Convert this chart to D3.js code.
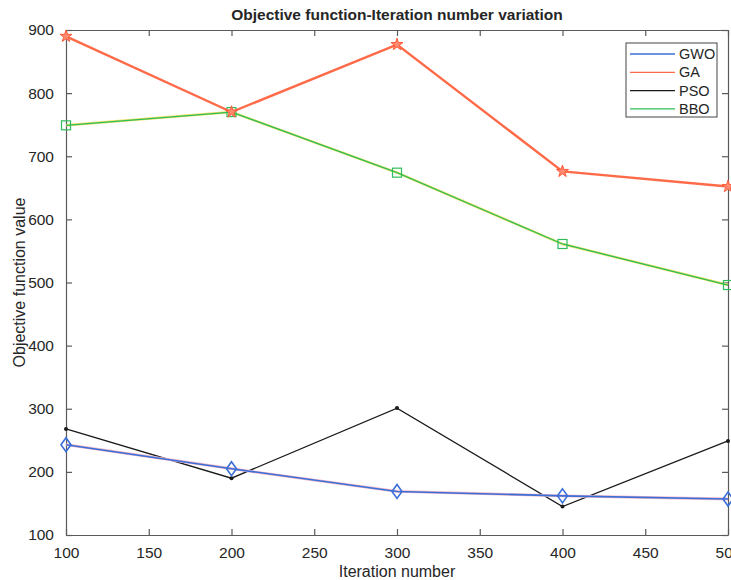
<!DOCTYPE html>
<html>
<head>
    <title>Objective function-Iteration number variation</title>
    <script src="https://d3js.org/d3.v7.min.js"></script>
    <style>
        body { margin: 0; background: #fff; }
        text { font-family: "Liberation Sans", Arial, sans-serif; fill: #262626; }
    </style>
</head>
<body>
    <script>
        const iterations = [100, 200, 300, 400, 500];
        const gwo = [243, 205, 169, 162, 157];
        const ga = [890, 770, 877, 676, 652];
        const pso = [268, 190, 301, 145, 249];
        const bbo = [749, 770, 674, 561, 496];
        const xTicks = [100, 150, 200, 250, 300, 350, 400, 450, 500];
        const yTicks = [100, 200, 300, 400, 500, 600, 700, 800, 900];

        const margin = {top: 30, right: 3, bottom: 45, left: 66},
            width = 731 - margin.left - margin.right,
            height = 580 - margin.top - margin.bottom;

        const svg = d3.select("body")
          .append("svg")
            .attr("width", 731)
            .attr("height", 580);

        const g = svg.append("g")
            .attr("transform", `translate(${margin.left},${margin.top})`);

        const x = d3.scaleLinear().domain([100, 500]).range([0, width]);
        const y = d3.scaleLinear().domain([100, 900]).range([height, 0]);

        const axisColor = "#5a5a5a";

        // axes with inner ticks (matlab style)
        const xb = g.append("g")
            .attr("transform", `translate(0,${height})`)
            .call(d3.axisBottom(x).tickValues(xTicks).tickSizeInner(-6).tickSizeOuter(0).tickPadding(12));
        const xt = g.append("g")
            .call(d3.axisTop(x).tickValues(xTicks).tickSizeInner(-6).tickSizeOuter(0).tickFormat(""));
        const yl = g.append("g")
            .call(d3.axisLeft(y).tickValues(yTicks).tickSizeInner(-6).tickSizeOuter(0).tickPadding(12));
        const yr = g.append("g")
            .attr("transform", `translate(${width},0)`)
            .call(d3.axisRight(y).tickValues(yTicks).tickSizeInner(-6).tickSizeOuter(0).tickFormat(""));

        [xb, xt, yl, yr].forEach(a => {
            a.selectAll("path, line").attr("stroke", axisColor).attr("stroke-width", 1.2);
            a.selectAll("text").style("font-size", "15.5px").attr("fill", "#262626");
        });

        const line = d3.line().x((d, i) => x(iterations[i])).y(d => y(d));

        // BBO
        g.append("path").datum(bbo).attr("d", line)
            .attr("fill", "none").attr("stroke", "#f0e060").attr("stroke-width", 2.4);
        g.append("path").datum(bbo).attr("d", line)
            .attr("fill", "none").attr("stroke", "#2ebd5a").attr("stroke-width", 1.3);
        g.selectAll(".bbo").data(bbo).enter().append("rect")
            .attr("x", (d, i) => x(iterations[i]) - 4.5)
            .attr("y", d => y(d) - 4.5)
            .attr("width", 9).attr("height", 9)
            .attr("fill", "none").attr("stroke", "#2ebd5a").attr("stroke-width", 1.2);

        // GA
        g.append("path").datum(ga).attr("d", line)
            .attr("fill", "none").attr("stroke", "#ff6a48").attr("stroke-width", 2.4);
        g.selectAll(".ga").data(ga).enter().append("path")
            .attr("d", d3.symbol().type(d3.symbolStar).size(45))
            .attr("transform", (d, i) => `translate(${x(iterations[i])},${y(d)})`)
            .attr("fill", "#ff8a70").attr("stroke", "#ff5a38").attr("stroke-width", 1);

        // PSO
        g.append("path").datum(pso).attr("d", line)
            .attr("fill", "none").attr("stroke", "#1a1a1a").attr("stroke-width", 1.3);
        g.selectAll(".pso").data(pso).enter().append("circle")
            .attr("cx", (d, i) => x(iterations[i]))
            .attr("cy", d => y(d))
            .attr("r", 2).attr("fill", "#1a1a1a");

        // GWO
        g.append("path").datum(gwo).attr("d", line)
            .attr("fill", "none").attr("stroke", "#f2b8c8").attr("stroke-width", 2.8);
        g.append("path").datum(gwo).attr("d", line)
            .attr("fill", "none").attr("stroke", "#3a6fd8").attr("stroke-width", 1.6);
        g.selectAll(".gwo").data(gwo).enter().append("path")
            .attr("d", "M0,-7L5,0L0,7L-5,0Z")
            .attr("transform", (d, i) => `translate(${x(iterations[i])},${y(d)})`)
            .attr("fill", "none").attr("stroke", "#3a6fd8").attr("stroke-width", 1.6);

        // title and labels
        svg.append("text")
            .attr("x", margin.left + width / 2).attr("y", 20)
            .attr("text-anchor", "middle")
            .style("font-size", "15.5px").style("font-weight", "bold")
            .text("Objective function-Iteration number variation");

        svg.append("text")
            .attr("x", margin.left + width / 2).attr("y", 577)
            .attr("text-anchor", "middle")
            .style("font-size", "16px")
            .text("Iteration number");

        svg.append("text")
            .attr("transform", `translate(25,${margin.top + height / 2}) rotate(-90)`)
            .attr("text-anchor", "middle")
            .style("font-size", "16px")
            .text("Objective function value");

        // legend
        const series = [
            {name: "GWO", color: "#3a6fd8"},
            {name: "GA", color: "#ff6a48"},
            {name: "PSO", color: "#1a1a1a"},
            {name: "BBO", color: "#2ebd5a"}
        ];
        const lg = svg.append("g").attr("transform", "translate(626,43)");
        lg.append("rect")
            .attr("width", 91).attr("height", 74)
            .attr("fill", "#fff").attr("stroke", "#444").attr("stroke-width", 1);
        series.forEach((s, i) => {
            const yy = 11 + i * 18.3;
            lg.append("line")
                .attr("x1", 4).attr("x2", 49).attr("y1", yy).attr("y2", yy)
                .attr("stroke", s.color).attr("stroke-width", 1.3);
            lg.append("text")
                .attr("x", 53).attr("y", yy + 5)
                .style("font-size", "14.5px")
                .text(s.name);
        });
    </script>
</body>
</html>
